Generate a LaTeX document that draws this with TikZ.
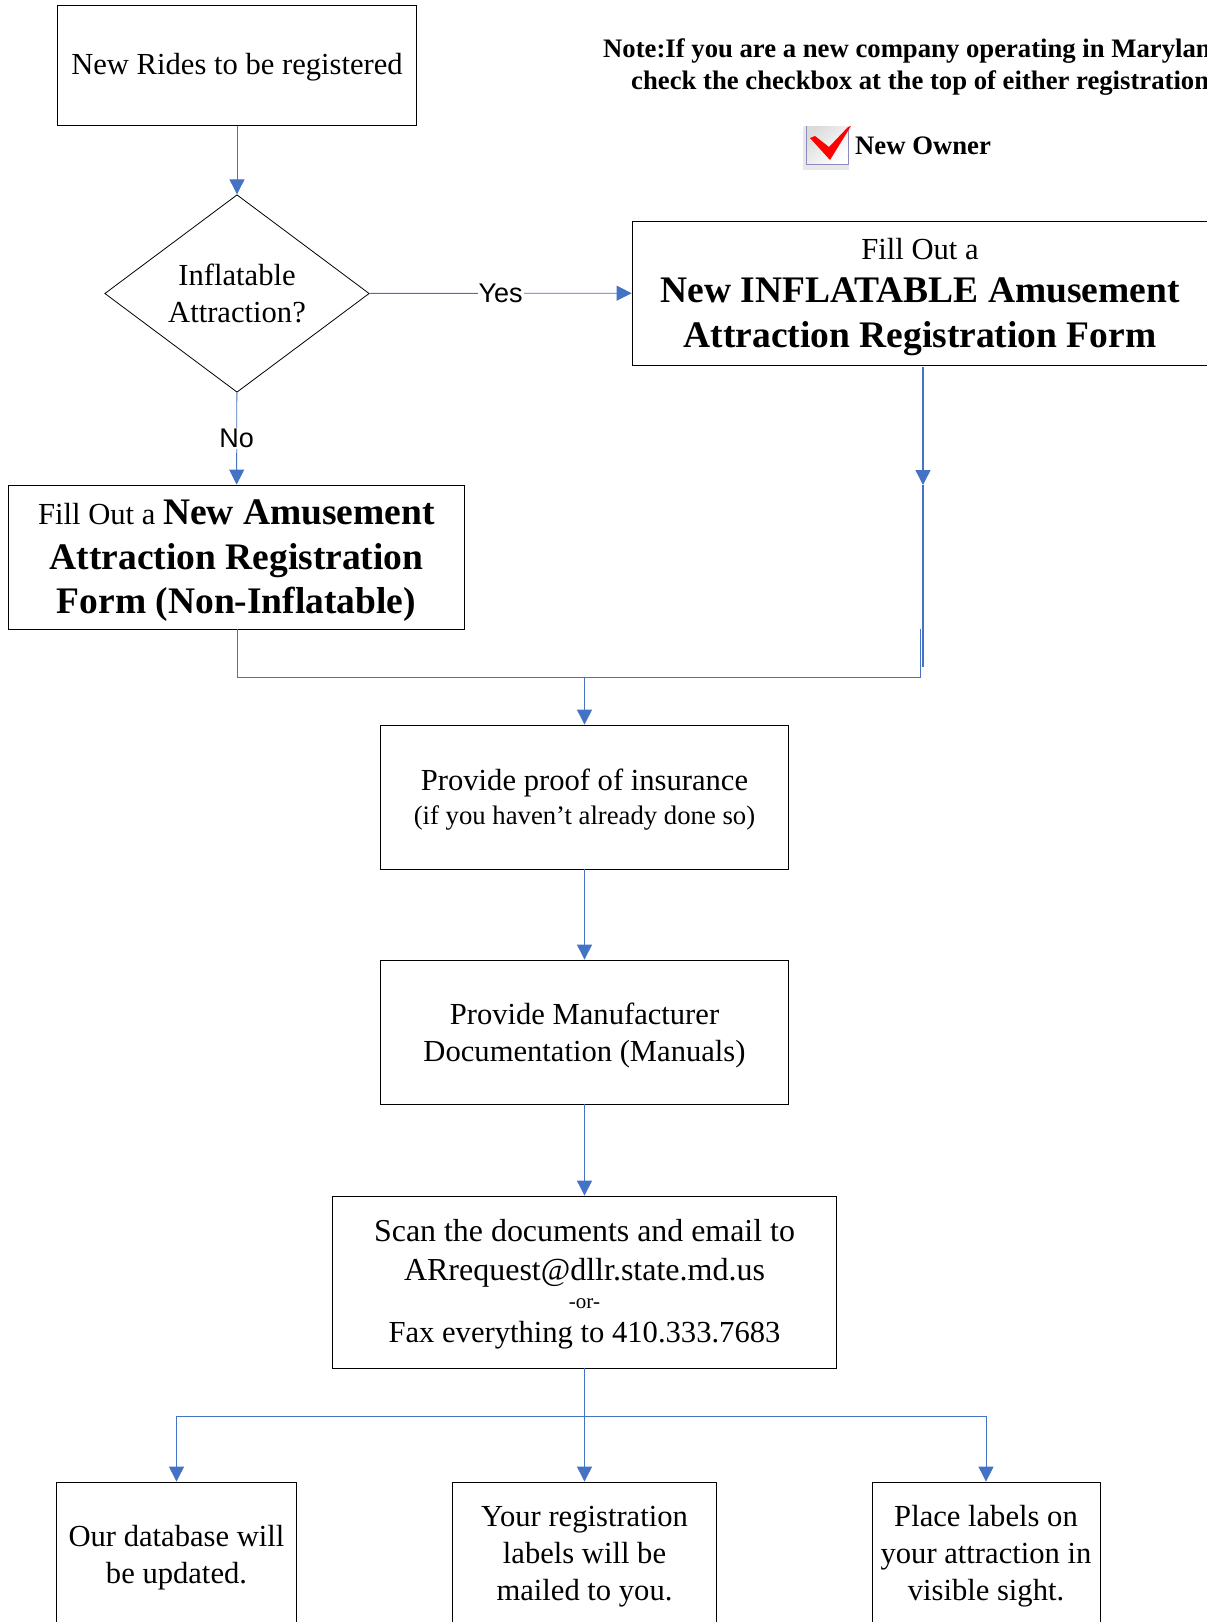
\documentclass[tikz,border=0pt]{standalone}
\usepackage{fontspec}
\setmainfont{Liberation Serif}
\newfontfamily\labelfont{Liberation Sans}
\usetikzlibrary{arrows.meta,shapes.geometric}
\definecolor{flowblue}{HTML}{4472C4}
\newcommand{\txtnormal}{\fontsize{30.6}{37}\selectfont}
\newcommand{\txtnote}{\fontsize{26.7}{32}\selectfont\bfseries}
\newcommand{\txtbig}{\fontsize{37.5}{44.5}\selectfont\bfseries}
\newcommand{\topgap}[1]{\mbox{}\\[#1]}
\tikzset{
  stepbox/.style={draw=black, line width=0.8pt, align=center, inner sep=0pt, font=\txtnormal},
  bigbox/.style={stepbox, font=\txtbig},
  flow/.style={draw=flowblue, line width=0.9pt, -{Triangle[length=15pt,width=15pt]}},
  flowline/.style={draw=flowblue, line width=0.9pt},
  answer/.style={fill=white, inner sep=1pt, font=\labelfont\fontsize{27}{32}\selectfont}
}

\begin{document}
\begin{tikzpicture}[x=1pt, y=-1pt]
\useasboundingbox (0,0) rectangle (1207,1622);

% boxes of the flow
\node[stepbox, minimum width=359pt, minimum height=120pt] (rides) at (237,65.5) {\topgap{-12.4pt}New Rides to be registered};
\node[stepbox, shape=diamond, aspect=1.34, minimum width=264.5pt, minimum height=197.5pt] (inflatable) at (237,293.5) {Inflatable\\Attraction?};
\node[bigbox, minimum width=576pt, minimum height=144pt] (inflform) at (920,293) {\topgap{-15.7pt}{\fontsize{30.6}{37}\selectfont\mdseries Fill Out a}\\[-1pt]New INFLATABLE Amusement\\Attraction Registration Form};
\node[bigbox, minimum width=455.5pt, minimum height=144pt] (plainform) at (236.5,557) {\topgap{-12.2pt}{\fontsize{30.6}{37}\selectfont\mdseries Fill Out a }New Amusement\\Attraction Registration\\Form (Non-Inflatable)};
\node[stepbox, minimum width=407.5pt, minimum height=144pt] (insurance) at (584.5,797) {\topgap{-10.3pt}Provide proof of insurance\\[-3pt]{\fontsize{26.7}{32}\selectfont (if you haven’t already done so)}};
\node[stepbox, minimum width=407.5pt, minimum height=144pt] (manuals) at (584.5,1032) {\topgap{-9.2pt}Provide Manufacturer\\Documentation (Manuals)};
\node[stepbox, minimum width=503.5pt, minimum height=172pt] (scan) at (584.5,1282) {\topgap{-10.3pt}{\fontsize{31.9}{37}\selectfont Scan the documents and email to}\\[2.3pt]{\fontsize{32}{37}\selectfont ARrequest@dllr.state.md.us}\\[-6pt]\raisebox{3pt}{\fontsize{21}{24}\selectfont -or-}\\[-6pt]Fax everything to 410.333.7683};
\node[stepbox, minimum width=240pt, minimum height=143pt] (database) at (176.5,1553.5) {\topgap{-8.2pt}Our database will\\be updated.};
\node[stepbox, minimum width=264pt, minimum height=143pt] (labels) at (584.5,1553.5) {\topgap{-10.3pt}Your registration\\labels will be\\mailed to you.};
\node[stepbox, minimum width=228pt, minimum height=143pt] (sight) at (986,1553.5) {\topgap{-10.3pt}Place labels on\\your attraction in\\visible sight.};

% note and checkbox
\node[anchor=north west, align=left, inner sep=0pt, font=\txtnote] (note) at (603,38) {Note:If you are a new company operating in Maryland\\\hspace*{28pt}check the checkbox at the top of either registration};
\node[anchor=west, inner sep=0pt, font=\txtnote] (owner) at (855,145.5) {New Owner};
\fill[black!9] (803,126) rectangle (849,170);
\shade[top color=black!14, bottom color=white, shading angle=45] (806,126) rectangle (848,164);
\draw[draw=blue!30!gray!70, line width=1pt] (806,126) -- (806,164) -- (848,164) -- (848,127);
\fill[red] (810,138) -- (815,136) -- (829,147) -- (848,127) -- (851,126) -- (830,160) -- cycle;

% connectors
\coordinate (inflout) at (923,367);
\coordinate (inflmid) at (923,485);
\coordinate (inflend) at (923,667);
\coordinate (stub) at (920.5,629);
\coordinate (corner) at (920.5,677);
\coordinate (leftcorner) at (inflatable.center |- corner);
\coordinate (merge) at (insurance.north |- corner);
\coordinate (split) at (584.5,1416);

\draw[flow] (rides) -- (inflatable);
\draw[flow] (inflatable) -- node[answer] {Yes} (inflform);
\draw[flow] (inflatable) -- node[answer] {No} (plainform);
\draw[flow, line width=1.3pt] (inflout) -- (inflmid);
\draw[flowline, line width=1.3pt] (inflmid) -- (inflend);
\draw[flowline] (plainform.south -| leftcorner) -- (leftcorner) -- (corner) -- (stub);
\draw[flow] (merge) -- (insurance);
\draw[flow] (insurance) -- (manuals);
\draw[flow] (manuals) -- (scan);
\draw[flow] (scan) -- (labels);
\draw[flowline] (database.north |- split) -- (sight.north |- split);
\draw[flow] (database.north |- split) -- (database);
\draw[flow] (sight.north |- split) -- (sight);
\end{tikzpicture}
\end{document}
